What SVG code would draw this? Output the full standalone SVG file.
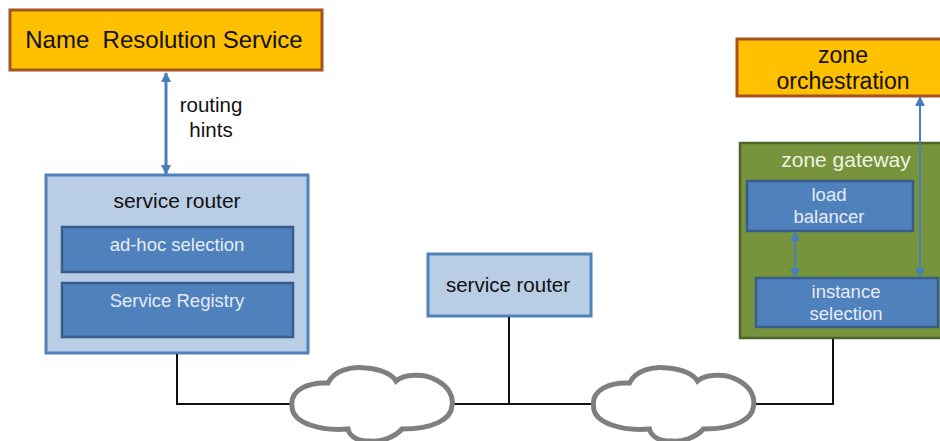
<svg xmlns="http://www.w3.org/2000/svg" width="940" height="441" viewBox="0 0 940 441">
  <style>
    text { font-family: "Liberation Sans", Arial, sans-serif; text-anchor: middle; }
    .orange { fill: #FFC000; stroke: #A4521E; stroke-width: 3; }
    .router { fill: #B9CDE5; stroke: #4F81BD; stroke-width: 3; }
    .inner { fill: #4F81BD; stroke: #385D8A; stroke-width: 2.5; }
    .zone { fill: #77933C; stroke: #4F6228; stroke-width: 2.5; }
    .dark { fill: #111; }
    .light { fill: #E6ECF6; }
    .wire { fill: none; stroke: #111; stroke-width: 2; }
    .cloud { fill: #fff; stroke: #7F7F7F; stroke-width: 5; }
    .link { stroke: #4A7EBB; fill: none; }
  </style>
  <defs>
    <marker id="arr" viewBox="0 0 10 10" refX="9" refY="5" markerWidth="10" markerHeight="10" markerUnits="userSpaceOnUse" orient="auto-start-reverse">
      <path d="M0,0 L10,5 L0,10 Z" fill="#4A7EBB"/>
    </marker>
    <path id="cloudShape" d="M -80,2 C -82,-14 -64,-22 -44,-21 C -38,-34 -20,-38 -6,-36 C 8,-35 20,-30 24,-23 C 32,-30 52,-31 64,-24 C 76,-18 82,-8 80,2 C 79,15 62,25 30,25 C 22,34 8,38 -2,37 C -12,37 -22,34 -24,25 C -50,27 -80,20 -80,2 Z"/>
  </defs>

  <g id="name-resolution">
    <rect class="orange" x="10" y="10" width="312" height="60"/>
    <text class="dark" x="164" y="48" font-size="24" xml:space="preserve">Name  Resolution Service</text>
  </g>

  <g id="routing-hints-label">
    <text class="dark" x="211" y="112" font-size="20.5">routing</text>
    <text class="dark" x="211" y="137" font-size="20.5">hints</text>
  </g>

  <g id="service-router-main">
    <rect class="router" x="46" y="175" width="262" height="178"/>
    <text class="dark" x="177" y="208" font-size="21">service router</text>
  </g>
  <g id="adhoc-selection">
    <rect class="inner" x="62" y="227" width="231" height="45"/>
    <text class="light" x="177" y="251" font-size="18.5">ad-hoc selection</text>
  </g>
  <g id="service-registry">
    <rect class="inner" x="62" y="283" width="231" height="54"/>
    <text class="light" x="177" y="307" font-size="18.5">Service Registry</text>
  </g>

  <g id="service-router-mid">
    <rect class="router" x="428" y="254" width="163" height="62"/>
    <text class="dark" x="508" y="292" font-size="20.5">service router</text>
  </g>

  <g id="zone-orchestration">
    <rect class="orange" x="737" y="39" width="220" height="57"/>
    <text class="dark" x="843" y="63" font-size="23">zone</text>
    <text class="dark" x="843" y="89" font-size="23">orchestration</text>
  </g>

  <g id="zone-gateway">
    <rect class="zone" x="740" y="143" width="220" height="195"/>
    <text fill="#EEF3E2" x="846" y="167" font-size="21">zone gateway</text>
  </g>
  <g id="load-balancer">
    <rect class="inner" x="747" y="181" width="166" height="50"/>
    <text class="light" x="829" y="201" font-size="18.5">load</text>
    <text class="light" x="829" y="223" font-size="18.5">balancer</text>
  </g>
  <g id="instance-selection">
    <rect class="inner" x="756" y="278" width="182" height="49"/>
    <text class="light" x="846" y="298" font-size="18.5">instance</text>
    <text class="light" x="846" y="320" font-size="18.5">selection</text>
  </g>

  <!-- wiring and arrows, drawn over the boxes -->
  <g id="connectors">
    <polyline class="wire" points="177,354 177,404 292,404"/>
    <line class="wire" x1="452" y1="404" x2="593" y2="404"/>
    <line class="wire" x1="509" y1="317" x2="509" y2="404"/>
    <polyline class="wire" points="754,404 833,404 833,339"/>
    <line class="link" x1="166" y1="73" x2="166" y2="174" stroke-width="3" marker-start="url(#arr)" marker-end="url(#arr)"/>
    <line class="link" x1="795" y1="232" x2="795" y2="277" stroke-width="2" marker-start="url(#arr)" marker-end="url(#arr)"/>
    <line class="link" x1="920" y1="97" x2="920" y2="277" stroke-width="2" marker-start="url(#arr)" marker-end="url(#arr)"/>
  </g>

  <g id="clouds">
    <use href="#cloudShape" class="cloud" transform="translate(372,404)"/>
    <use href="#cloudShape" class="cloud" transform="translate(673.5,404)"/>
  </g>
</svg>
